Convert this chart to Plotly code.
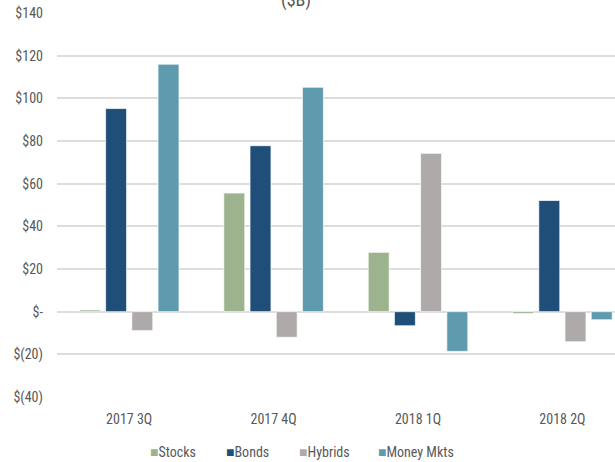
import plotly.graph_objects as go

quarters = ["2017 3Q", "2017 4Q", "2018 1Q", "2018 2Q"]
stocks = [0.8, 55.6, 27.8, -0.9]
bonds = [95.2, 77.8, -6.6, 52.1]
hybrids = [-8.9, -12.0, 74.2, -14.1]
money_mkts = [116.0, 105.2, -18.6, -3.8]

series_names = ["Stocks", "Bonds", "Hybrids", "Money Mkts"]
series_values = [stocks, bonds, hybrids, money_mkts]
colors = ["#9CB38E", "#1F4E79", "#AEAAA9", "#5F9BAF"]

tick_vals = [-40, -20, 0, 20, 40, 60, 80, 100, 120, 140]
tick_text = ["$(40)", "$(20)", "$-", "$20", "$40", "$60", "$80", "$100", "$120", "$140"]

FONT = "Liberation Sans Narrow, Arial Narrow, Roboto Condensed, sans-serif"
GREY = "#595959"

fig = go.Figure()
for name, vals, col in zip(series_names, series_values, colors):
    fig.add_trace(go.Bar(
        x=quarters, y=vals, name=name,
        marker=dict(color=col, line=dict(color="rgba(255,255,255,0.7)", width=1)),
        showlegend=False,
    ))

L, R, T, B = 57, 0, 13.3, 65.3
W, H = 615, 462
plot_w = W - L - R
plot_h = H - T - B

fig.update_layout(
    width=W, height=H,
    margin=dict(l=L, r=R, t=T, b=B, pad=0),
    paper_bgcolor="white", plot_bgcolor="white",
    barmode="group", bargap=0.274, bargroupgap=0.2,
    font=dict(family=FONT, size=14, color=GREY),
    xaxis=dict(range=[-0.5, -0.5 + plot_w / 144.4], showgrid=False, showline=False,
               zeroline=False, ticks="", ticklabelstandoff=12,
               tickfont=dict(family=FONT, size=14, color=GREY)),
    yaxis=dict(range=[-40, 140], tickvals=tick_vals, ticktext=tick_text,
               showgrid=True, gridcolor="#DDDDDD", gridwidth=1.5,
               zeroline=True, zerolinecolor="#DDDDDD", zerolinewidth=1.5,
               showline=False, ticks="", ticklabelstandoff=13,
               tickfont=dict(family=FONT, size=14, color=GREY)),
)

# cut-off title
fig.add_annotation(text="($B)", xref="paper", yref="paper",
                   x=(296 - L) / plot_w, y=1 + (T - 0.0) / plot_h,
                   xanchor="center", yanchor="middle", showarrow=False,
                   font=dict(family=FONT, size=18, color=GREY))

# legend
legend_x = [148, 224, 297, 375.7]
for name, col, px in zip(series_names, colors, legend_x):
    fig.add_annotation(
        text=f"<span style='color:{col}'>■</span>{name}",
        xref="paper", yref="paper",
        x=(px - L) / plot_w, y=(plot_h + T - 451.7) / plot_h,
        xanchor="left", yanchor="middle", showarrow=False,
        font=dict(family=FONT, size=14, color=GREY))

fig.write_html("out.html")
